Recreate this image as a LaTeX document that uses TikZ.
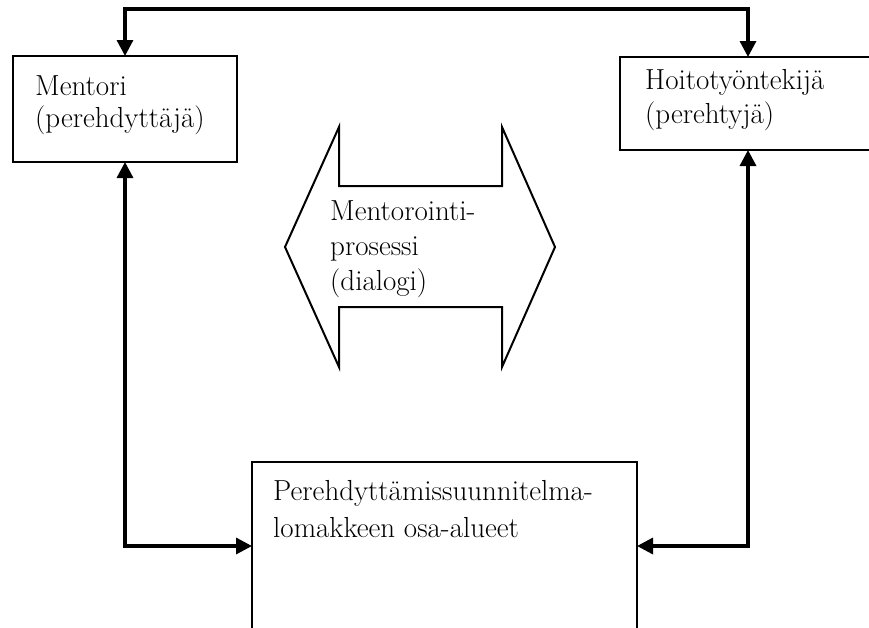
\documentclass[tikz,border=0pt]{standalone}
\usetikzlibrary{arrows.meta}
\begin{document}
\begin{tikzpicture}[x=1pt,y=-1pt,
  boxnode/.style={draw,line width=2pt,minimum width=#1,inner sep=0pt,outer sep=0pt},
  lbl/.style={anchor=base west,align=left,inner sep=0pt,font=\fontsize{29}{33}\selectfont},
  conn/.style={line width=3.3pt,{Triangle[length=16pt,width=16pt]}-{Triangle[length=16pt,width=16pt]}},
  bigarrow/.style={draw,line width=2pt,line join=miter}]
\useasboundingbox (0,0) rectangle (869,627);
\clip (0,0) rectangle (869,627);
% boxes
\node[boxnode=224pt,minimum height=106pt] (ment) at (125,109) {};
\node[boxnode=256pt,minimum height=93pt] (hoito) at (748,103.5) {};
\node[boxnode=385pt,minimum height=168pt] (bot) at (444.5,546) {};
% texts (anchor = baseline of the last line)
\node[lbl] (tment) at (35,127) {Mentori\\[-1pt](perehdyttäjä)};
\node[lbl] (thoito) at (645,123) {Hoitotyöntekijä\\[1pt](perehtyjä)};
\node[lbl] (tbot) at (273,537) {Perehdyttämissuunnitelma-\\[4pt]lomakkeen osa-alueet};
% double arrow
\path[bigarrow] (285,247) -- (339,127) -- (339,186) -- (502,186) -- (502,127)
  -- (555,247) -- (502,367) -- (502,307) -- (339,307) -- (339,367) -- cycle;
\node[lbl] (tmid) at (330,290) {Mentorointi-\\[2pt]prosessi\\[2pt](dialogi)};
% connectors
\coordinate (topl) at (125,9);
\coordinate (topr) at (748,9);
\coordinate (botl) at (125,546);
\coordinate (botr) at (748,546);
\draw[conn,line join=miter] (ment.north) -- (topl) -- (topr) -- (hoito.north);
\draw[conn,line join=miter] (ment.south) -- (botl) -- (bot.west);
\draw[conn,line join=miter] (hoito.south) -- (botr) -- (bot.east);
\end{tikzpicture}
\end{document}
